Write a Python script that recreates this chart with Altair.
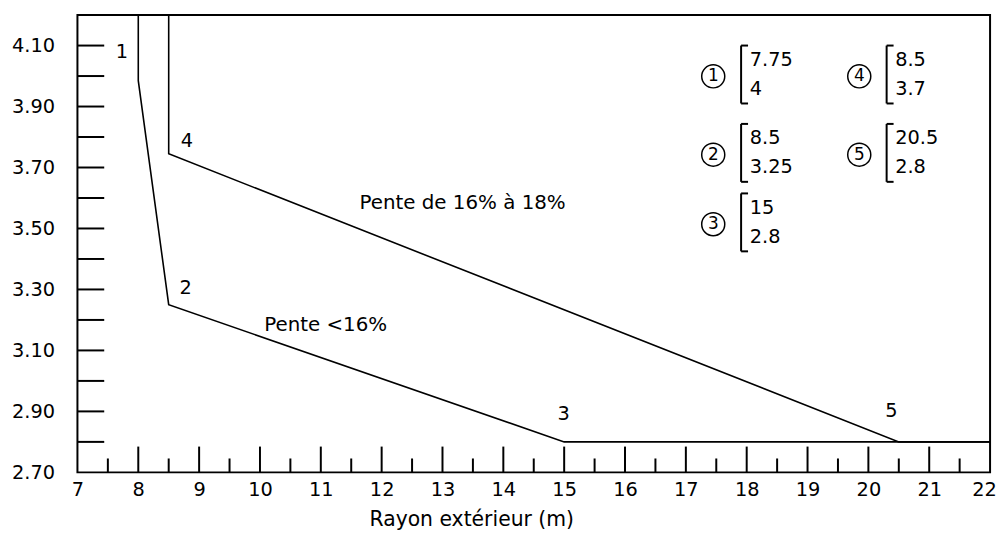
import altair as alt
import pandas as pd

# ---------------- data ----------------
# curve "Pente <16%" (through points 1, 2, 3)
low_x = [8.0, 8.0, 8.5, 15.0, 22.0]
low_y = [4.20, 3.985, 3.25, 2.80, 2.80]
# curve "Pente de 16% a 18%" (through points 4, 5)
high_x = [8.5, 8.5, 20.5, 22.0]
high_y = [4.20, 3.745, 2.80, 2.80]

x_labels = list(range(7, 23))
x_major = list(range(8, 22))
x_minor = [7.5 + i for i in range(15)]
y_labels = [2.7, 2.9, 3.1, 3.3, 3.5, 3.7, 3.9, 4.1]
y_ticks = [round(2.8 + 0.1 * i, 2) for i in range(14)]

point_ids = ["1", "2", "3", "4", "5"]
point_lab_x = [7.73, 8.78, 14.99, 8.80, 20.38]
point_lab_y = [4.08, 3.305, 2.89, 3.786, 2.90]

slope_texts = ["Pente de 16% à 18%", "Pente <16%"]
slope_x = [13.33, 11.08]
slope_y = [3.585, 3.184]

legend_ids = ["1", "2", "3", "4", "5"]
legend_r = ["7.75", "8.5", "15", "8.5", "20.5"]
legend_h = ["4", "3.25", "2.8", "3.7", "2.8"]
legend_col = [0, 0, 0, 1, 1]
legend_row = [0, 1, 2, 0, 1]

# legend layout (data coordinates)
col_circle_x = [17.45, 19.85]
col_bracket_x = [17.908, 20.30]
col_text_x = [18.05, 20.44]
row_center_y = [4.005, 3.748, 3.520]
line_dy = 0.047
bracket_dy = 0.095
circle_dy = -0.006

FONT = "DejaVu Sans"

# ---------------- tables ----------------
lines_df = pd.DataFrame(
    [{"x": x, "y": y, "s": "low", "o": i} for i, (x, y) in enumerate(zip(low_x, low_y))]
    + [{"x": x, "y": y, "s": "high", "o": i} for i, (x, y) in enumerate(zip(high_x, high_y))]
)
ytick_df = pd.DataFrame({"y": y_ticks})
xmaj_df = pd.DataFrame({"x": x_major})
xmin_df = pd.DataFrame({"x": x_minor})
pts_df = pd.DataFrame({"x": point_lab_x, "y": point_lab_y, "t": point_ids})
slope_df = pd.DataFrame({"x": slope_x, "y": slope_y, "t": slope_texts})

leg_rows = []
for i in range(len(legend_ids)):
    c, r = legend_col[i], legend_row[i]
    yc = row_center_y[r]
    leg_rows.append({
        "cx": col_circle_x[c], "cy": yc + circle_dy, "id": legend_ids[i],
        "bx": col_bracket_x[c], "btop": yc + bracket_dy, "bbot": yc - bracket_dy,
        "tx": col_text_x[c], "ty1": yc + line_dy, "ty2": yc - line_dy,
        "r": legend_r[i], "h": legend_h[i],
    })
leg_df = pd.DataFrame(leg_rows)

# ---------------- scales / axes ----------------
xs = alt.Scale(domain=[7, 22], nice=False, zero=False)
ys = alt.Scale(domain=[2.7, 4.2], nice=False, zero=False)
xaxis = alt.Axis(values=x_labels, format="d", ticks=False, tickSize=0, domain=False, grid=False,
                 labelFont=FONT, labelFontSize=19.5, labelPadding=8, labelColor="black",
                 labelFlush=False, labelOverlap=False,
                 labelOffset={"condition": {"test": "datum.value == 22", "value": -6}, "value": 0},
                 title="Rayon extérieur (m)", titleFont=FONT, titleFontSize=20.5,
                 titleFontWeight="normal", titleColor="black",
                 titleX=397, titleY=38, titleAlign="center", titleBaseline="top")
yaxis = alt.Axis(values=y_labels, format=".2f", ticks=False, tickSize=0, domain=False,
                 grid=False, labelFont=FONT, labelFontSize=19.5, labelPadding=23,
                 labelColor="black", labelFlush=False, labelOverlap=False, title=None)


def X(f):
    return alt.X(f, type="quantitative", scale=xs, axis=xaxis)


def Y(f):
    return alt.Y(f, type="quantitative", scale=ys, axis=yaxis)


lines = alt.Chart(lines_df).mark_line(color="black", strokeWidth=1.6).encode(
    x=X("x"), y=Y("y"), detail="s:N", order="o:Q")

yt = alt.Chart(ytick_df).mark_rule(color="black", strokeWidth=2, x2Offset=27).encode(
    x=alt.datum(7), x2=alt.datum(7), y=Y("y"))
xmaj = alt.Chart(xmaj_df).mark_rule(color="black", strokeWidth=2, y2Offset=-26).encode(
    x=X("x"), y=alt.datum(2.7), y2=alt.datum(2.7))
xmin = alt.Chart(xmin_df).mark_rule(color="black", strokeWidth=2, y2Offset=-14).encode(
    x=X("x"), y=alt.datum(2.7), y2=alt.datum(2.7))

pts = alt.Chart(pts_df).mark_text(font=FONT, fontSize=19.5, color="black",
                                  baseline="middle", align="center").encode(
    x=X("x"), y=Y("y"), text="t:N")
slopes = alt.Chart(slope_df).mark_text(font=FONT, fontSize=20, color="black",
                                       baseline="middle", align="center").encode(
    x=X("x"), y=Y("y"), text="t:N")

leg = alt.Chart(leg_df)
circles = leg.mark_point(shape="circle", size=540, filled=False, color="black",
                         strokeWidth=1.5, opacity=1).encode(x=X("cx"), y=Y("cy"))
digits = leg.mark_text(font=FONT, fontSize=17, color="black", baseline="middle",
                       align="center").encode(x=X("cx"), y=Y("cy"), text="id:N")
bvert = leg.mark_rule(color="black", strokeWidth=2).encode(
    x=X("bx"), y=Y("btop"), y2="bbot")
btop = leg.mark_rule(color="black", strokeWidth=2, x2Offset=7).encode(
    x=X("bx"), x2="bx", y=Y("btop"))
bbot = leg.mark_rule(color="black", strokeWidth=2, x2Offset=7).encode(
    x=X("bx"), x2="bx", y=Y("bbot"))
t1 = leg.mark_text(font=FONT, fontSize=19.5, color="black", baseline="middle",
                   align="left").encode(x=X("tx"), y=Y("ty1"), text="r:N")
t2 = leg.mark_text(font=FONT, fontSize=19.5, color="black", baseline="middle",
                   align="left").encode(x=X("tx"), y=Y("ty2"), text="h:N")

chart = alt.layer(
    lines, yt, xmaj, xmin, pts, slopes, circles, digits, bvert, btop, bbot, t1, t2
).properties(
    width=920, height=461,
    autosize=alt.AutoSizeParams(type="none"),
    padding={"left": 70, "top": 5, "right": 8, "bottom": 60},
    background="white",
).configure_view(stroke="black", strokeWidth=2)

chart.save("out.html", embed_options={"renderer": "svg", "actions": False})
